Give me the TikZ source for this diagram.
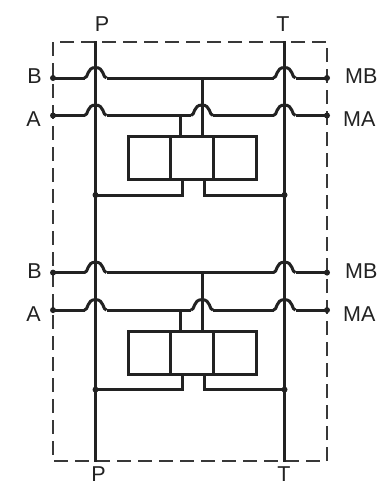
\documentclass[tikz,border=0pt]{standalone}
\usepackage{fontspec}
\setmainfont{Liberation Sans}
\usetikzlibrary{calc}
\definecolor{ink}{HTML}{222222}
\tikzset{
  wire/.style={draw=ink,line width=3pt},
  valve/.style={draw=ink,line width=3pt,minimum height=43pt,inner sep=0pt,outer sep=0pt},
  border/.style={draw=ink!90,line width=1.3pt,dash pattern=on 14pt off 7pt},
  lab/.style={inner sep=0pt,text=ink,font=\fontsize{21.5}{21.5}\selectfont,anchor=base},
  dot/.style={circle,fill=ink,inner sep=0pt,minimum size=6pt}
}
\newcommand{\hopat}[1]{%
  \draw[wire] ($(#1)+(-11,0)$) .. controls ($(#1)+(-7,0)$) and ($(#1)+(-9,-10.5)$) .. ($(#1)+(0,-10.5)$)
     .. controls ($(#1)+(9,-10.5)$) and ($(#1)+(7,0)$) .. ($(#1)+(11,0)$);}
\begin{document}
\begin{tikzpicture}[x=1pt,y=-1pt]
\useasboundingbox (0,0) rectangle (378,482);
\draw[border] (53,42) rectangle (327,461);
\coordinate (Ptop) at (95.5,41);
\coordinate (Ttop) at (284.5,41);
\coordinate (Pbot) at (95.5,462);
\coordinate (Tbot) at (284.5,462);
\draw[wire] (Ptop) -- (Pbot);
\draw[wire] (Ttop) -- (Tbot);
\node[lab] (lPt) at (102,31) {P};
\node[lab] (lTt) at (283,31) {T};
\node[lab] (lPb) at (98.5,481.5) {P};
\node[lab] (lTb) at (284,481.5) {T};
\foreach \u/\d/\bb/\ab in {1/0/83.5/126, 2/194.6/278/321}{
  \begin{scope}[yshift=-\d pt]
    \node[dot] (bl\u) at (53,78) {};
    \node[dot] (br\u) at (327,78) {};
    \node[dot] (al\u) at (53,115.5) {};
    \node[dot] (ar\u) at (327,115.5) {};
    \coordinate (bP\u) at (95.5,78);
    \coordinate (bT\u) at (284.5,78);
    \coordinate (aP\u) at (95.5,115.5);
    \coordinate (aM\u) at (202,115.5);
    \coordinate (aT\u) at (284.5,115.5);
    \coordinate (bM\u) at (202,78);
    \coordinate (aS\u) at (180,115.5);
    \hopat{bP\u}\hopat{bT\u}\hopat{aP\u}\hopat{aM\u}\hopat{aT\u}
    \draw[wire] (bl\u.center) -- ($(bP\u)+(-11,0)$);
    \draw[wire] ($(bP\u)+(11,0)$) -- ($(bT\u)+(-11,0)$);
    \draw[wire] ($(bT\u)+(11,0)$) -- (br\u.center);
    \draw[wire] (al\u.center) -- ($(aP\u)+(-11,0)$);
    \draw[wire] ($(aP\u)+(11,0)$) -- ($(aM\u)+(-11,0)$);
    \draw[wire] ($(aM\u)+(11,0)$) -- ($(aT\u)+(-11,0)$);
    \draw[wire] ($(aT\u)+(11,0)$) -- (ar\u.center);
    \node[valve,minimum width=43pt] (vc\u) at (192,158.3) {};
    \node[valve,minimum width=42.5pt,anchor=east] (vl\u) at (vc\u.west) {};
    \node[valve,minimum width=42.5pt,anchor=west] (vr\u) at (vc\u.east) {};
    \draw[wire] (bM\u) -- (bM\u |- vc\u.north);
    \draw[wire] (aS\u) -- (aS\u |- vc\u.north);
    \node[dot] (jP\u) at (95.5,195) {};
    \node[dot] (jT\u) at (284.5,195) {};
    \coordinate (sl\u) at (182,195);
    \coordinate (sr\u) at (204,195);
    \draw[wire] (jP\u.center) -- (sl\u) -- (sl\u |- vc\u.south);
    \draw[wire] (jT\u.center) -- (sr\u) -- (sr\u |- vc\u.south);
  \end{scope}
  \node[lab,anchor=base east] (lB\u) at (42,\bb) {B};
  \node[lab,anchor=base east] (lA\u) at (41,\ab) {A};
  \node[lab,anchor=base west] (lMB\u) at (345,\bb) {MB};
  \node[lab,anchor=base west] (lMA\u) at (343,\ab) {MA};
}
\end{tikzpicture}
\end{document}
